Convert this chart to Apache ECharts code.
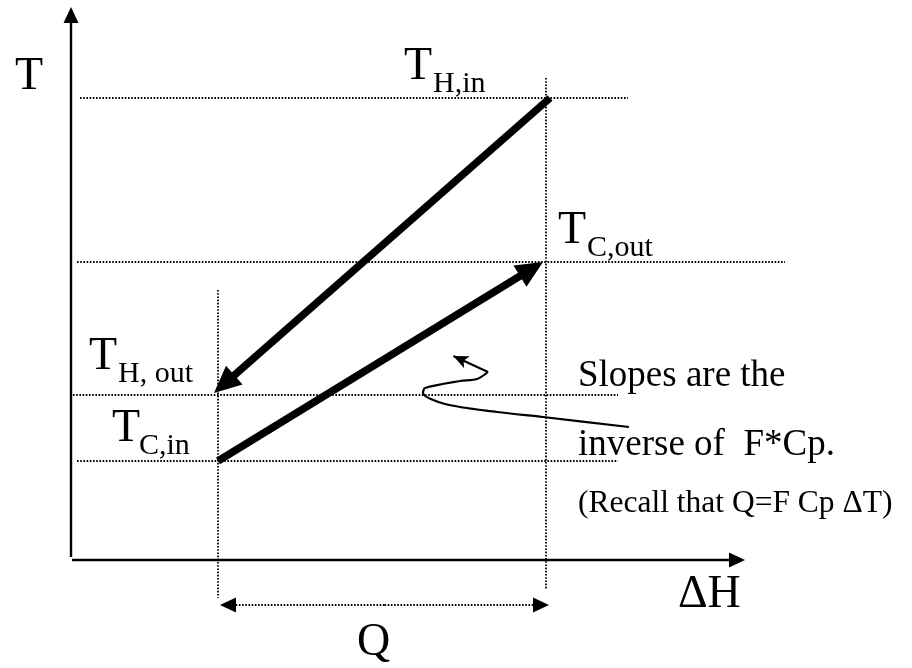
<!DOCTYPE html>
<html>
<head>
<meta charset="utf-8">
<script src="https://cdn.jsdelivr.net/npm/echarts@6/dist/echarts.min.js"></script>
<style>
  html, body { margin: 0; padding: 0; background: #fff; }
  #chart { width: 912px; height: 668px; }
</style>
</head>
<body>
<div id="chart"></div>
<script>
// Enthalpy (ΔH) at the start / end of the exchange
const exchangeH = [147, 475];
// Hot stream temperatures: in, out
const hotT = [462, 165];
// Cold stream temperatures: in, out
const coldT = [99, 298];
// Level of the Q dimension arrow and the ends of the two axes
const qLevel = -45;
const axisEnds = [674, 553];
// Hand-drawn pointer next to the note (last point is the arrow tip)
const pointerPath = [
  [558, 133], [472, 143], [426, 148], [374, 156], [352, 167],
  [354, 172], [389, 179], [406, 181], [417, 188], [376, 207]
];
const subLabels = ['H,in', 'C,out', 'H, out', 'C,in'];
const noteLines = ['Slopes are the', 'inverse of  F*Cp.', '(Recall that Q=F Cp \u0394T)'];

const FONT = '"Liberation Serif", "Times New Roman", serif';

// Move an arrow end back along its line so a centred head puts its tip on the point.
function pullBack(from, to, dist) {
  const dx = to[0] - from[0];
  const dy = to[1] - from[1];
  const len = Math.sqrt(dx * dx + dy * dy) || 1;
  return [to[0] - dx / len * dist, to[1] - dy / len * dist];
}

function arrowLine(from, to, head, style) {
  // head = [breadth, length]
  return [
    { coord: from, symbol: 'none' },
    { coord: pullBack(from, to, head[1] / 2), symbol: 'triangle', symbolSize: head, lineStyle: style }
  ];
}

function dotted(from, to) {
  return [
    { coord: from, symbol: 'none' },
    { coord: to, symbol: 'none', lineStyle: { color: '#000', width: 1.8, type: [1.6, 1.6] } }
  ];
}

function text(str, x, baseline, size) {
  return {
    type: 'text',
    x,
    y: baseline - size * 0.31,
    silent: true,
    style: {
      text: str,
      font: `${size}px ${FONT}`,
      fill: '#000',
      textAlign: 'left',
      textVerticalAlign: 'middle'
    }
  };
}

const axisStyle = { color: '#000', width: 2.4, type: 'solid' };
const thickStyle = { color: '#000', width: 7.5, type: 'solid' };

const hotFrom = [exchangeH[1] + 4, hotT[0]];
const hotTo = [exchangeH[0] - 4, hotT[1] + 2];
const coldFrom = [exchangeH[0], coldT[0]];
const coldTo = [exchangeH[1] - 3, coldT[1]];

const qLeft = [exchangeH[0] + 2, qLevel];
const qRight = [exchangeH[1] + 3, qLevel];
const qMid = [(qLeft[0] + qRight[0]) / 2, qLevel];

const tipFrom = pointerPath[pointerPath.length - 2];
const tipTo = pointerPath[pointerPath.length - 1];

const option = {
  animation: false,
  grid: { left: 0, right: 0, top: 0, bottom: 0 },
  xAxis: { type: 'value', min: -71, max: 841, show: false },
  yAxis: { type: 'value', min: -108, max: 560, show: false },
  series: [
    {
      name: 'guides',
      type: 'line',
      data: [],
      markLine: {
        silent: true,
        animation: false,
        label: { show: false },
        symbol: ['none', 'none'],
        data: [
          dotted([9, hotT[0]], [557, hotT[0]]),
          dotted([6, coldT[1]], [714, coldT[1]]),
          dotted([2, hotT[1]], [547, hotT[1]]),
          dotted([6, coldT[0]], [547, coldT[0]]),
          dotted([exchangeH[0], 270], [exchangeH[0], -38]),
          dotted([exchangeH[1], 482], [exchangeH[1], -30])
        ]
      }
    },
    {
      name: 'axes',
      type: 'line',
      data: [],
      markLine: {
        silent: true,
        animation: false,
        label: { show: false },
        data: [
          arrowLine([0, 3], [0, axisEnds[1]], [15, 16], axisStyle),
          arrowLine([1, 0], [axisEnds[0], 0], [15, 16], axisStyle)
        ]
      }
    },
    {
      name: 'streams',
      type: 'line',
      data: [],
      markLine: {
        silent: true,
        animation: false,
        label: { show: false },
        data: [
          arrowLine(hotFrom, hotTo, [25, 27], thickStyle),
          arrowLine(coldFrom, coldTo, [25, 27], thickStyle)
        ]
      }
    },
    {
      name: 'q',
      type: 'line',
      data: [],
      markLine: {
        silent: true,
        animation: false,
        label: { show: false },
        data: [
          arrowLine(qMid, qLeft, [15, 16], { color: '#000', width: 2, type: [1.6, 1.6] }),
          arrowLine(qMid, qRight, [15, 16], { color: '#000', width: 2, type: [1.6, 1.6] })
        ]
      }
    },
    {
      name: 'pointer',
      type: 'line',
      data: pointerPath.slice(0, -1),
      smooth: 0.3,
      symbol: 'none',
      silent: true,
      lineStyle: { color: '#000', width: 2.2 },
      markLine: {
        silent: true,
        animation: false,
        label: { show: false },
        data: [
          [
            { coord: tipFrom, symbol: 'none' },
            {
              coord: pullBack(tipFrom, tipTo, 7),
              symbol: 'arrow',
              symbolSize: [10, 15],
              lineStyle: { color: '#000', width: 2.2, type: 'solid' }
            }
          ]
        ]
      }
    }
  ],
  graphic: [
    text('T', 15, 91, 46),
    text('T', 404, 81, 46),
    text(subLabels[0], 433, 93, 30),
    text('T', 558, 245, 46),
    text(subLabels[1], 587, 257, 30),
    text('T', 89, 371, 46),
    text(subLabels[2], 118, 383, 30),
    text('T', 112, 443, 46),
    text(subLabels[3], 139, 455, 30),
    text(noteLines[0], 578, 388, 37),
    text(noteLines[1], 578, 457, 37),
    text(noteLines[2], 578, 513, 31.5),
    text('\u0394H', 678, 609, 46),
    text('Q', 357, 657, 46)
  ]
};

const chart = echarts.init(document.getElementById('chart'));
chart.setOption(option);
window.addEventListener('resize', () => chart.resize());
</script>
</body>
</html>
